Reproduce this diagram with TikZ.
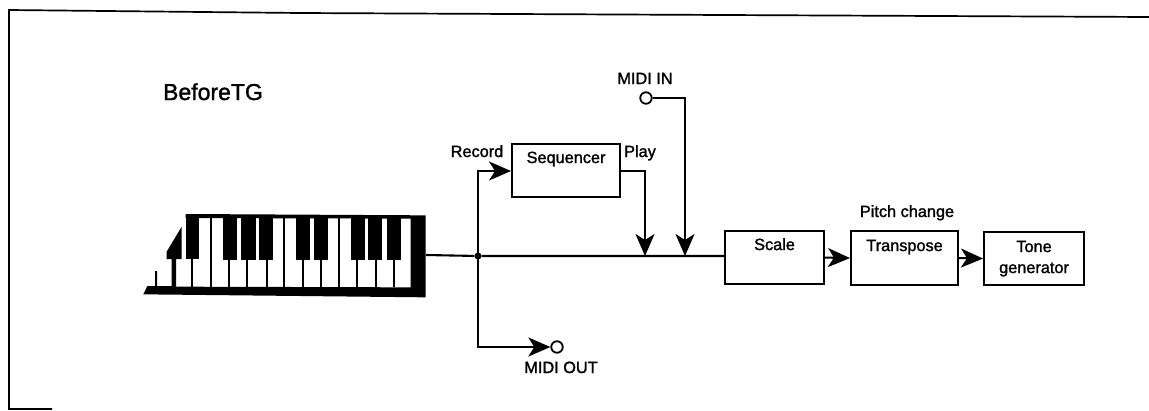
\documentclass[tikz,border=0pt]{standalone}
\usepackage{fontspec}
\setmainfont{Liberation Sans}[RawFeature={embolden=1.5}]
\usetikzlibrary{arrows.meta}
\tikzset{
  wire/.style={line width=2.1pt,line join=miter},
  arrowwire/.style={wire,-{Stealth[length=22pt,width=19pt,inset=6pt]}},
  blockbox/.style={draw,line width=2.1pt,inner sep=0pt,anchor=north west,font=\fontsize{16.3}{20}\selectfont},
  tag/.style={anchor=base,inner sep=0pt,font=\fontsize{16.3}{20}\selectfont},
  port/.style={circle,draw,fill=white,line width=1.8pt,minimum size=11.5pt,inner sep=0pt},
  joint/.style={circle,fill=black,minimum size=7pt,inner sep=0pt},
}
\begin{document}
\begin{tikzpicture}[x=1pt,y=-1pt]
\useasboundingbox (0,0) rectangle (1149,410);
% frame
\draw[line width=1.7pt] (1149,17) -- (300,13) -- (9,10) -- (9,409) -- (52,409);
% keyboard, in crop coordinates
\begin{scope}[shift={(120,190)},x=0.33333pt,y=-0.33333pt]
  \fill (197,72) -- (917,76) -- (917,322) -- (70,313) -- (82,288) -- (105,288) -- (105,243) -- (111,243) -- (111,288) -- (155,288) -- (155,207) -- (140,207) -- (140,185) -- (185,110) -- (185,207) -- (168,207) -- (168,290) -- (872,292) -- (872,86) -- (197,84) -- cycle;
  \fill (197,72) rectangle (238,207);
  \foreach \a/\b in {310/350,362/408,418/460,527/570,582/625,692/735,745/787,800/843}
    \fill (\a,80) rectangle (\b,211);
  \foreach \s in {216,328,382,440,548,603,712,767,822}
    \draw[line width=1.9pt] (\s,205) -- (\s,292);
  \foreach \s in {274,492,657}
    \draw[line width=2.1pt] (\s,80) -- (\s,292);
\end{scope}
\coordinate (kb) at (426,255);
% blocks
\node[blockbox,minimum width=108pt,text height=19pt,text depth=34pt] (seq) at (511,143) {Sequencer};
\node[blockbox,minimum width=99pt,text height=19pt,text depth=34pt] (scale) at (724,230) {Scale};
\node[blockbox,minimum width=107pt,text height=20pt,text depth=34pt] (trans) at (850,230) {Transpose};
\node[blockbox,minimum width=100pt,text height=41pt,text depth=12pt,align=center] (tone) at (983,231) {Tone\\[1pt]generator};
% labels
\node[tag,font=\fontsize{23}{27}\selectfont] (title) at (213,100) {BeforeTG};
\node[tag] (rec) at (477,157) {Record};
\node[tag] (play) at (640,157) {Play};
\node[tag] (midiinl) at (645,84) {MIDI IN};
\node[tag] (midioutl) at (561,373) {MIDI OUT};
\node[tag] (pitch) at (907,217) {Pitch change};
% ports
\node[port] (in) at (646,98) {};
\node[port] (out) at (557,347) {};
\node[joint] (j) at (478,256) {};
\coordinate (p1) at (645,256);
\coordinate (p2) at (685,256);
\coordinate (seqin) at (511,171);
\coordinate (seqout) at (619,171);
% connectors
\draw[wire] (kb) -- (j) -- (p1) -- (p2) -- (scale.west |- j);
\draw[arrowwire] (j.center) |- (seqin);
\draw[arrowwire] (j.center) |- (out.west);
\draw[arrowwire] (seqout) -| (p1);
\draw[arrowwire] (in.east) -| (p2);
\draw[arrowwire] (scale.east) -- (trans.west);
\draw[arrowwire] (trans.east) -- (tone.west);
\end{tikzpicture}
\end{document}
